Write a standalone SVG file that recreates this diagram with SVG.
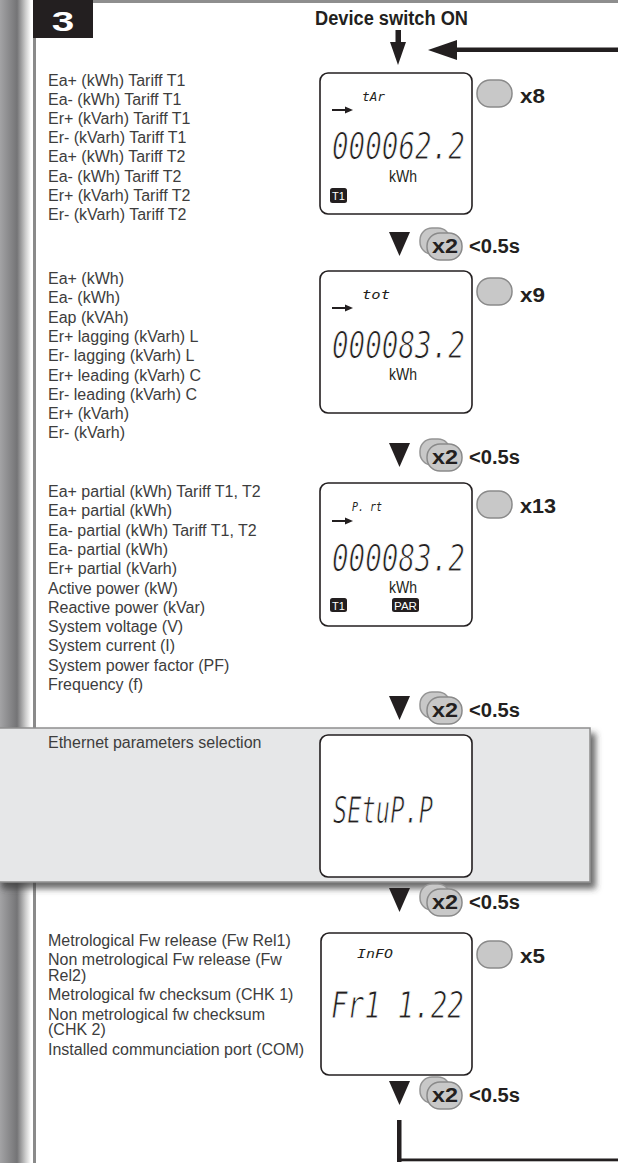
<svg xmlns="http://www.w3.org/2000/svg" width="618" height="1163" viewBox="0 0 618 1163">
<defs>
<linearGradient id="side" x1="0" y1="0" x2="1" y2="0">
<stop offset="0" stop-color="#a3a3a5"/>
<stop offset="0.55" stop-color="#747476"/>
<stop offset="0.82" stop-color="#cbcbcb"/>
<stop offset="1" stop-color="#ffffff"/>
</linearGradient>
<filter id="sh" x="-5%" y="-10%" width="115%" height="130%">
<feDropShadow dx="5" dy="6" stdDeviation="3" flood-color="#3a3a3a" flood-opacity="0.75"/>
</filter>
<g id="x2icon">
<polygon points="389,-12 410,-12 399.5,12" fill="#231f20"/>
<rect x="420" y="-16" width="30" height="26" rx="12" fill="#c8c8c8" stroke="#949494" stroke-width="1.5"/>
<rect x="427" y="-11" width="35" height="27" rx="13" fill="#c8c8c8" stroke="#8a8a8a" stroke-width="1.5"/>
<text x="432" y="9" class="bold" textLength="26" lengthAdjust="spacingAndGlyphs">x2</text>
<text x="469" y="9" class="bold" textLength="51" lengthAdjust="spacingAndGlyphs">&lt;0.5s</text>
</g>
<g id="lcdarrow">
<line x1="332" y1="0" x2="346" y2="0" stroke="#231f20" stroke-width="2"/>
<polygon points="345,-3.5 353,0 345,3.5" fill="#231f20"/>
</g>
</defs>
<style>
.lbl{font-family:"Liberation Sans",Arial,sans-serif;font-size:16px;fill:#3d3d3d}
.bold{font-family:"Liberation Sans",Arial,sans-serif;font-weight:bold;font-size:20px;fill:#231f20}
.lcd{font-family:"DejaVu Sans Mono","Liberation Mono",monospace;font-style:oblique;font-size:37px;fill:#231f20;stroke:#fff;stroke-width:1px}
.lcds{font-family:"DejaVu Sans Mono","Liberation Mono",monospace;font-style:oblique;font-size:12px;fill:#231f20}
.unit{font-family:"Liberation Sans",Arial,sans-serif;font-size:17px;fill:#231f20}
.box{fill:#fff;stroke:#231f20;stroke-width:1.6}
.btn{fill:#c8c8c8;stroke:#8a8a8a;stroke-width:1.5}
.badge{fill:#231f20}
.btxt{font-family:"Liberation Sans",Arial,sans-serif;font-size:11px;fill:#fff}
</style>

<g id="frame">
<rect x="0" y="0" width="31" height="1163" fill="url(#side)"/>
<rect x="33" y="0" width="3" height="1163" fill="#8a8a8a"/>
<rect x="33" y="0" width="585" height="3" fill="#8e8e8e"/>
<rect x="33" y="0" width="60" height="38" fill="#231f20"/>
<text x="63" y="31" text-anchor="middle" font-family="Liberation Sans, Arial, sans-serif" font-weight="bold" font-size="27" fill="#fff" transform="translate(63 0) scale(1.5 1) translate(-63 0)">3</text>
</g>

<g id="start">
<text x="315" y="25" class="bold" font-size="18" textLength="153" lengthAdjust="spacingAndGlyphs">Device switch ON</text>
</g>

<g id="sec-tariff">
<text class="lbl" x="48" y="86">Ea+ (kWh) Tariff T1</text>
<text class="lbl" x="48" y="105.1">Ea- (kWh) Tariff T1</text>
<text class="lbl" x="48" y="124.2">Er+ (kVarh) Tariff T1</text>
<text class="lbl" x="48" y="143.3">Er- (kVarh) Tariff T1</text>
<text class="lbl" x="48" y="162.4">Ea+ (kWh) Tariff T2</text>
<text class="lbl" x="48" y="181.5">Ea- (kWh) Tariff T2</text>
<text class="lbl" x="48" y="200.6">Er+ (kVarh) Tariff T2</text>
<text class="lbl" x="48" y="219.7">Er- (kVarh) Tariff T2</text>
<rect class="box" x="320" y="73" width="152" height="141" rx="8"/>
<text class="lcds" x="362" y="101" textLength="23" lengthAdjust="spacingAndGlyphs">tAr</text>
<use href="#lcdarrow" transform="translate(0 110)"/>
<text class="lcd" x="332" y="159" textLength="133" lengthAdjust="spacingAndGlyphs">000062.2</text>
<text class="unit" x="389" y="182" textLength="28" lengthAdjust="spacingAndGlyphs">kWh</text>
<rect class="badge" x="330" y="188" width="17" height="15" rx="2.5"/>
<text class="btxt" x="338.5" y="200" text-anchor="middle">T1</text>
<rect class="btn" x="477" y="80" width="35" height="27" rx="13"/>
<text class="bold" x="520" y="103" textLength="25" lengthAdjust="spacingAndGlyphs">x8</text>
</g>

<g id="sec-total">
<text class="lbl" x="48" y="284">Ea+ (kWh)</text>
<text class="lbl" x="48" y="303.3">Ea- (kWh)</text>
<text class="lbl" x="48" y="322.6">Eap (kVAh)</text>
<text class="lbl" x="48" y="341.9">Er+ lagging (kVarh) L</text>
<text class="lbl" x="48" y="361.2">Er- lagging (kVarh) L</text>
<text class="lbl" x="48" y="380.5">Er+ leading (kVarh) C</text>
<text class="lbl" x="48" y="399.8">Er- leading (kVarh) C</text>
<text class="lbl" x="48" y="419.1">Er+ (kVarh)</text>
<text class="lbl" x="48" y="438.4">Er- (kVarh)</text>
<rect class="box" x="320" y="271" width="152" height="142" rx="8"/>
<text class="lcds" x="362" y="299" textLength="28" lengthAdjust="spacingAndGlyphs">tot</text>
<use href="#lcdarrow" transform="translate(0 308)"/>
<text class="lcd" x="332" y="358" textLength="133" lengthAdjust="spacingAndGlyphs">000083.2</text>
<text class="unit" x="389" y="380" textLength="28" lengthAdjust="spacingAndGlyphs">kWh</text>
<rect class="btn" x="477" y="278" width="35" height="27" rx="13"/>
<text class="bold" x="520" y="302" textLength="25" lengthAdjust="spacingAndGlyphs">x9</text>
</g>

<g id="sec-partial">
<text class="lbl" x="48" y="497">Ea+ partial (kWh) Tariff T1, T2</text>
<text class="lbl" x="48" y="516.3">Ea+ partial (kWh)</text>
<text class="lbl" x="48" y="535.6">Ea- partial (kWh) Tariff T1, T2</text>
<text class="lbl" x="48" y="554.9">Ea- partial (kWh)</text>
<text class="lbl" x="48" y="574.2">Er+ partial (kVarh)</text>
<text class="lbl" x="48" y="593.5">Active power (kW)</text>
<text class="lbl" x="48" y="612.8">Reactive power (kVar)</text>
<text class="lbl" x="48" y="632.1">System voltage (V)</text>
<text class="lbl" x="48" y="651.4">System current (I)</text>
<text class="lbl" x="48" y="670.7">System power factor (PF)</text>
<text class="lbl" x="48" y="690">Frequency (f)</text>
<rect class="box" x="320" y="483" width="152" height="143" rx="8"/>
<text class="lcds" x="352" y="511" textLength="30" lengthAdjust="spacingAndGlyphs">P. rt</text>
<use href="#lcdarrow" transform="translate(0 521)"/>
<text class="lcd" x="332" y="571" textLength="133" lengthAdjust="spacingAndGlyphs">000083.2</text>
<text class="unit" x="389" y="593" textLength="28" lengthAdjust="spacingAndGlyphs">kWh</text>
<rect class="badge" x="330" y="598" width="17" height="14" rx="2.5"/>
<text class="btxt" x="338.5" y="609.5" text-anchor="middle">T1</text>
<rect class="badge" x="392" y="598" width="27" height="14" rx="2.5"/>
<text class="btxt" x="405.5" y="609.5" text-anchor="middle" textLength="23" lengthAdjust="spacingAndGlyphs">PAR</text>
<rect class="btn" x="477" y="491" width="35" height="27" rx="13"/>
<text class="bold" x="520" y="513" textLength="36" lengthAdjust="spacingAndGlyphs">x13</text>
</g>

<g id="sec-ethernet">
<rect x="-3" y="728" width="593" height="154" fill="#e6e7e8" stroke="#8e8e8e" stroke-width="1.5" filter="url(#sh)"/>
<text class="lbl" x="48" y="748">Ethernet parameters selection</text>
<rect class="box" x="320" y="735" width="152" height="142" rx="8"/>
<text class="lcd" x="333" y="823" textLength="100" lengthAdjust="spacingAndGlyphs">SEtuP.P</text>
</g>

<g id="sec-info">
<text class="lbl" x="48" y="946">Metrological Fw release (Fw Rel1)</text>
<text class="lbl" x="48" y="965">Non metrological Fw release (Fw</text>
<text class="lbl" x="48" y="980.5">Rel2)</text>
<text class="lbl" x="48" y="1000">Metrological fw checksum (CHK 1)</text>
<text class="lbl" x="48" y="1019.5">Non metrological fw checksum</text>
<text class="lbl" x="48" y="1035">(CHK 2)</text>
<text class="lbl" x="48" y="1055">Installed communciation port (COM)</text>
<rect class="box" x="321" y="933" width="151" height="142" rx="8"/>
<text class="lcds" x="357" y="958" textLength="36" lengthAdjust="spacingAndGlyphs">InFO</text>
<text class="lcd" x="331" y="1018" textLength="133" lengthAdjust="spacingAndGlyphs">Fr1  1.22</text>
<rect class="btn" x="477" y="941" width="35" height="27" rx="13"/>
<text class="bold" x="520" y="963" textLength="25" lengthAdjust="spacingAndGlyphs">x5</text>
</g>

<g id="connectors">
<rect x="395.5" y="30" width="5.5" height="13" fill="#231f20"/>
<polygon points="390,42 406,42 398,65" fill="#231f20"/>
<rect x="456" y="47.5" width="162" height="4.5" fill="#231f20"/>
<polygon points="428,50 457,40 457,60" fill="#231f20"/>
<use href="#x2icon" transform="translate(0 244)"/>
<use href="#x2icon" transform="translate(0 455)"/>
<use href="#x2icon" transform="translate(0 708)"/>
<use href="#x2icon" transform="translate(0 900)"/>
<use href="#x2icon" transform="translate(0 1093)"/>
<rect x="397" y="1120" width="4.5" height="42" fill="#231f20"/>
<rect x="397" y="1158.5" width="221" height="2.8" fill="#231f20"/>
</g>
</svg>
